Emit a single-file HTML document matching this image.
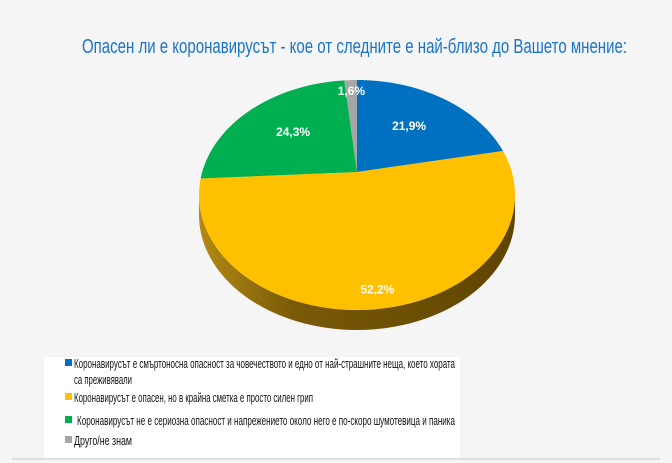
<!DOCTYPE html>
<html><head><meta charset="utf-8"><style>
html,body{margin:0;padding:0;background:#f5f5f5;}
svg{display:block;font-family:"Liberation Sans",sans-serif;}
</style></head><body>
<svg width="672" height="463" viewBox="0 0 672 463">
<defs>
<linearGradient id="side" x1="0" x2="1" y1="0" y2="0">
<stop offset="0" stop-color="#b38a14"/><stop offset="0.3" stop-color="#7a5a08"/><stop offset="1" stop-color="#5e4400"/>
</linearGradient>
</defs>
<rect x="0" y="0" width="672" height="463" fill="#f5f5f5"/>
<text x="82" y="53" font-size="20" fill="#1a73c8" textLength="545" lengthAdjust="spacingAndGlyphs">Опасен ли е коронавирусът - кое от следните е най-близо до Вашето мнение:</text>
<g id="pie"></g>
<rect x="44" y="357" width="416" height="101" fill="#ffffff"/>
<line x1="12" y1="459" x2="660" y2="459" stroke="#d8d8d8" stroke-width="1.5"/>
<g>
<rect x="65" y="359" width="7" height="7" fill="#0070c0"/>
<text x="74" y="368" font-size="12.5" fill="#111" textLength="381" lengthAdjust="spacingAndGlyphs">Коронавирусът е смъртоносна опасност за човечеството и едно от най-страшните неща, което хората</text>
<text x="74" y="384" font-size="12.5" fill="#111" textLength="58" lengthAdjust="spacingAndGlyphs">са преживявали</text>
</g>
<g>
<rect x="65" y="393" width="7" height="7" fill="#ffc000"/>
<text x="74" y="402" font-size="12.5" fill="#111" textLength="239" lengthAdjust="spacingAndGlyphs">Коронавирусът е опасен, но в крайна сметка е просто силен грип</text>
</g>
<g>
<rect x="65" y="416" width="7" height="7" fill="#00b050"/>
<text x="77" y="425" font-size="12.5" fill="#111" textLength="378" lengthAdjust="spacingAndGlyphs">Коронавирусът не е сериозна опасност и напрежението около него е по-скоро шумотевица и паника</text>
</g>
<g>
<rect x="65" y="436" width="7" height="7" fill="#a6a6a6"/>
<text x="74" y="445" font-size="12.5" fill="#111" textLength="58" lengthAdjust="spacingAndGlyphs">Друго/не знам</text>
</g>
</svg>
<script>
const categories = ["deadly","flu","not-serious","other"];
const values = [21.9, 52.2, 24.3, 1.6];
const valueLabels = ["21,9%","52,2%","24,3%","1,6%"];
const colors = ["#0070c0","#ffc000","#00b050","#a6a6a6"];
const NS = "http://www.w3.org/2000/svg";
const g = document.getElementById("pie");
const cx = 357, cy = 195, rx = 158, ry = 115, depth = 20, vx = 357, vy = 172;
function pt(f){
  const t = f*2*Math.PI;
  const dx = Math.sin(t), dy = -Math.cos(t)*ry/rx;
  const ox = vx - cx, oy = vy - cy;
  const a = dx*dx/(rx*rx) + dy*dy/(ry*ry);
  const b = 2*(ox*dx/(rx*rx) + oy*dy/(ry*ry));
  const c = ox*ox/(rx*rx) + oy*oy/(ry*ry) - 1;
  const s = (-b + Math.sqrt(b*b - 4*a*c))/(2*a);
  return [vx + dx*s, vy + dy*s];
}
const total = values.reduce((a,b)=>a+b,0);
const side = document.createElementNS(NS,"path");


side.setAttribute("d", `M${cx-rx},${cy} A${rx},${ry} 0 0 0 ${cx+rx},${cy} L${cx+rx},${cy+depth} A${rx},${ry} 0 0 1 ${cx-rx},${cy+depth} Z`);
side.setAttribute("fill","url(#side)");
g.appendChild(side);
let acc = 0;
values.forEach((v,i)=>{
  const f0 = acc/total, f1 = (acc+v)/total; acc += v;
  const p0 = pt(f0);
  let d = `M${vx},${vy} L${p0[0].toFixed(2)},${p0[1].toFixed(2)}`;
  const steps = Math.max(4, Math.ceil((f1-f0)*160));
  for(let s=1;s<=steps;s++){ const p = pt(f0+(f1-f0)*s/steps); d += ` L${p[0].toFixed(2)},${p[1].toFixed(2)}`; }
  d += " Z";
  const path = document.createElementNS(NS,"path");
  
  
  path.setAttribute("d", d);
  path.setAttribute("fill", colors[i]);
  g.appendChild(path);
});
acc = 0;
values.forEach((v,i)=>{
  const fm = (acc + v/2)/total; acc += v;
  const p = pt(fm);
  const k = v < 5 ? 0.88 : (v > 40 ? 0.86 : 0.62);
  const x = vx + (p[0]-vx)*k, y = vy + (p[1]-vy)*k + 4;
  const tx = document.createElementNS(NS,"text");
  
  
  tx.setAttribute("x", x.toFixed(1)); tx.setAttribute("y", y.toFixed(1));
  tx.setAttribute("text-anchor","middle");
  tx.setAttribute("font-size","12"); tx.setAttribute("font-weight","bold");
  tx.setAttribute("fill","#ffffff");
  tx.textContent = valueLabels[i];
  g.appendChild(tx);
});
</script>
</body></html>
